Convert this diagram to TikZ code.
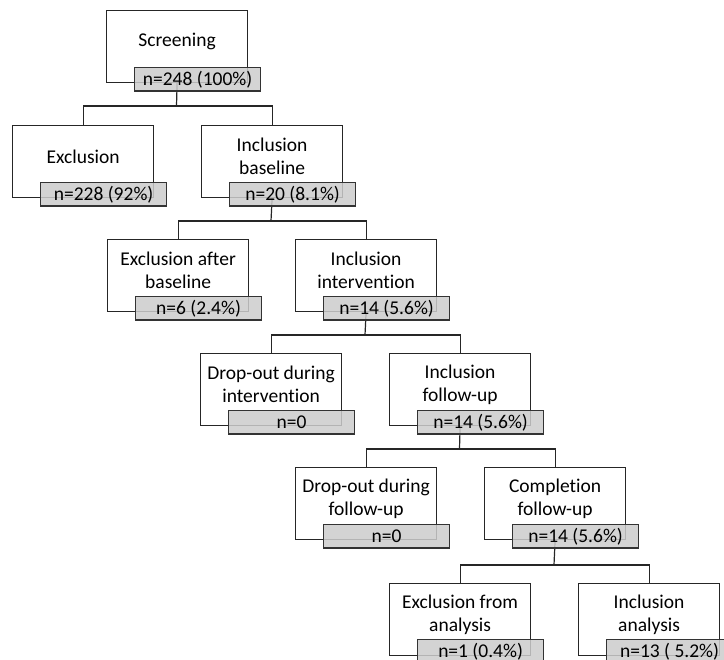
\documentclass[tikz,border=0pt]{standalone}
\usepackage{fontspec}
\setmainfont[Ligatures=NoCommon]{Carlito}
\begin{document}
\begin{tikzpicture}[x=1pt,y=-1pt,
    box/.style={draw=black!85,line width=1.2pt,fill=white,anchor=north west,inner sep=0pt,minimum width=141pt,minimum height=72pt},
    title/.style={align=center,inner sep=0pt,font=\fontsize{19.5}{23}\selectfont},
    count/.style={draw=black!80,line width=1.2pt,fill=black!20,fill opacity=0.85,text opacity=1,anchor=north west,inner sep=0pt,minimum width=126pt,minimum height=23.5pt,font=\fontsize{19.5}{23}\selectfont},
    link/.style={draw=black!85,line width=1.2pt}]
        \path[use as bounding box] (0,0) rectangle (724,660);
        \clip (0,0) rectangle (724,660);

        % boxes
        \node[box] (scr) at (106,10) {};
        \node[box] (exc) at (12,125) {};
        \node[box] (incb) at (201,125) {};
        \node[box] (excb) at (107,239) {};
        \node[box] (inci) at (295,239) {};
        \node[box] (dropi) at (200,353) {};
        \node[box] (incf) at (389,353) {};
        \node[box] (dropf) at (295,467) {};
        \node[box] (compf) at (484,467) {};
        \node[box] (exca) at (389,583) {};
        \node[box] (inca) at (578,583) {};

        \node[title] (scr-t) at ([yshift=5pt]scr.center) {Screening};
        \node[title] (exc-t) at ([yshift=5pt]exc.center) {Exclusion};
        \node[title] (incb-t) at ([yshift=5pt]incb.center) {Inclusion\\baseline};
        \node[title] (excb-t) at ([yshift=5pt]excb.center) {Exclusion after\\baseline};
        \node[title] (inci-t) at ([yshift=5pt]inci.center) {Inclusion\\intervention};
        \node[title] (dropi-t) at ([yshift=5pt]dropi.center) {Drop-out during\\intervention};
        \node[title] (incf-t) at ([yshift=5pt]incf.center) {Inclusion\\follow-up};
        \node[title] (dropf-t) at ([yshift=5pt]dropf.center) {Drop-out during\\follow-up};
        \node[title] (compf-t) at ([yshift=5pt]compf.center) {Completion\\follow-up};
        \node[title] (exca-t) at ([yshift=5pt]exca.center) {Exclusion from\\analysis};
        \node[title] (inca-t) at ([yshift=5pt]inca.center) {Inclusion\\analysis};

        % joints
        \coordinate (J1) at (176.5,106);
        \coordinate (J2) at (271,221);
        \coordinate (J3) at (365,335);
        \coordinate (J4) at (459.5,449);
        \coordinate (J5) at (554,565);

        \draw[link] (scr.south) -- (J1);
        \draw[link] (exc.north) |- (J1) -| (incb.north);
        \draw[link] (incb.south) -- (J2);
        \draw[link] (excb.north) |- (J2) -| (inci.north);
        \draw[link] (inci.south) -- (J3);
        \draw[link] (dropi.north) |- (J3) -| (incf.north);
        \draw[link] (incf.south) -- (J4);
        \draw[link] (dropf.north) |- (J4) -| (compf.north);
        \draw[link] (compf.south) -- (J5);
        \draw[link] (exca.north) |- (J5) -| (inca.north);

        % counts
        \node[count] (scr-n) at (134,67) {n=248 (100\%)};
        \node[count] (exc-n) at (40,182) {n=228 (92\%)};
        \node[count] (incb-n) at (229,182) {n=20 (8.1\%)};
        \node[count] (excb-n) at (135,296) {n=6 (2.4\%)};
        \node[count] (inci-n) at (323,296) {n=14 (5.6\%)};
        \node[count] (dropi-n) at (228,410) {n=0};
        \node[count] (incf-n) at (417,410) {n=14 (5.6\%)};
        \node[count] (dropf-n) at (323,524) {n=0};
        \node[count] (compf-n) at (512,524) {n=14 (5.6\%)};
        \node[count] (exca-n) at (417,639) {n=1 (0.4\%)};
        \node[count] (inca-n) at (606,639) {n=13 ( 5.2\%)};
\end{tikzpicture}
\end{document}
